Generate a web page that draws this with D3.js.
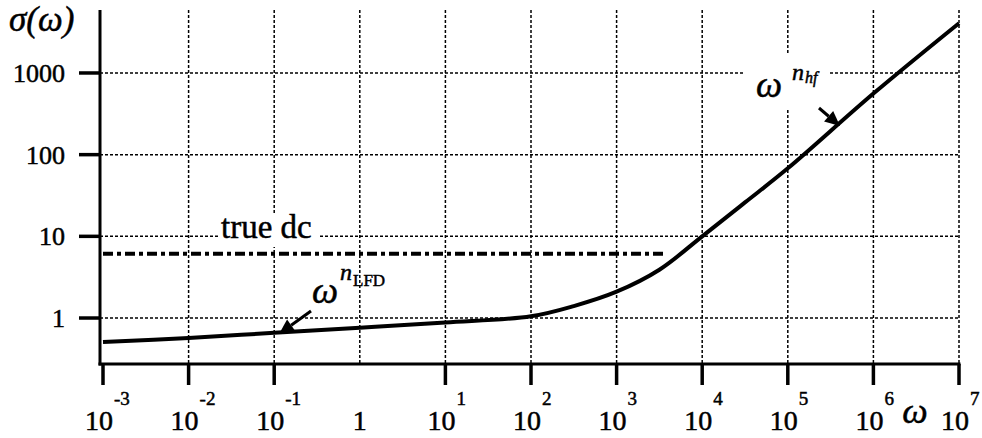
<!DOCTYPE html>
<html>
<head>
<meta charset="utf-8">
<script src="https://cdn.jsdelivr.net/npm/d3@7"></script>
<style>
    html, body { margin: 0; padding: 0; background: #fff; }
    text { font-family: 'Liberation Serif', 'DejaVu Serif', Times, serif; fill: #000; stroke: #000; stroke-width: 0.5; }
    .grid line { stroke: #000; stroke-width: 1.5; stroke-dasharray: 3,2; }
</style>
</head>
<body>
<svg id="plate" width="982" height="438"></svg>
<script>
// conductivity spectrum
var omega = [1e-3, 1e-2, 1e-1, 1, 10, 100, 316, 1000, 3162, 1e4, 31623, 1e5, 1e6, 1e7];
var sigma = [0.51, 0.57, 0.66, 0.76, 0.88, 1.05, 1.4, 2.1, 3.9, 10, 26, 68, 560, 4070];

// true dc level (dash-dot line)
var trueDc = 6.1;
var trueDcRange = [1e-3, 3500];

// ticks
var xTicks = [1e-3, 1e-2, 1e-1, 1, 1e1, 1e2, 1e3, 1e4, 1e5, 1e6, 1e7];
var xTickLabels = ['-3', '-2', '-1', '', '1', '2', '3', '4', '5', '6', '7'];
var yTicks = [1, 10, 100, 1000];
var yTickLabels = ['1', '10', '100', '1000'];

var svg = d3.select('#plate');

// set the ranges
var x = d3.scaleLog().domain([1e-3, 1e7]).range([103, 959]);
var y = d3.scaleLog().domain([Math.pow(10, -0.563), Math.pow(10, 3.771)]).range([364, 10]);

var axisLeftX = 100;
var axisBottomY = 364;

// grid
var grid = svg.append('g').attr('class', 'grid');
grid.selectAll('.v').data(xTicks.slice(1))
    .enter().append('line')
    .attr('x1', (d) => x(d)).attr('x2', (d) => x(d))
    .attr('y1', 10).attr('y2', axisBottomY);
grid.selectAll('.h').data(yTicks)
    .enter().append('line')
    .attr('x1', axisLeftX).attr('x2', x(1e7))
    .attr('y1', (d) => y(d)).attr('y2', (d) => y(d));

// white boxes behind labels cut the grid
svg.append('rect').attr('x', 218).attr('y', 214).attr('width', 102).attr('height', 33).attr('fill', '#fff');
svg.append('rect').attr('x', 745).attr('y', 55).attr('width', 85).attr('height', 55).attr('fill', '#fff');

// true dc dash-dot line
svg.append('line')
    .attr('x1', x(trueDcRange[0])).attr('x2', x(trueDcRange[1]))
    .attr('y1', y(trueDc)).attr('y2', y(trueDc))
    .attr('stroke', '#000').attr('stroke-width', 4)
    .attr('stroke-dasharray', '10,4,4,4');

// the curve
var data = omega.map((w, i) => ({w: w, s: sigma[i]}));
var line = d3.line()
    .x((d) => x(d.w))
    .y((d) => y(d.s))
    .curve(d3.curveCatmullRom.alpha(0.5));
svg.append('path')
    .datum(data)
    .attr('d', line)
    .attr('fill', 'none')
    .attr('stroke', '#000')
    .attr('stroke-width', 4)
    .attr('stroke-linejoin', 'round');

// axes
svg.append('line')
    .attr('x1', axisLeftX).attr('x2', axisLeftX)
    .attr('y1', 10).attr('y2', axisBottomY + 1.5)
    .attr('stroke', '#000').attr('stroke-width', 3);
svg.append('line')
    .attr('x1', axisLeftX - 1.5).attr('x2', x(1e7) + 1.5)
    .attr('y1', axisBottomY).attr('y2', axisBottomY)
    .attr('stroke', '#000').attr('stroke-width', 3);

// x ticks (none drawn at 1)
svg.selectAll('.xtick').data(xTicks.filter((d) => d !== 1))
    .enter().append('line')
    .attr('x1', (d) => x(d)).attr('x2', (d) => x(d))
    .attr('y1', axisBottomY).attr('y2', axisBottomY + 21)
    .attr('stroke', '#000').attr('stroke-width', 3.5);

// y ticks
svg.selectAll('.ytick').data(yTicks)
    .enter().append('line')
    .attr('x1', axisLeftX - 21).attr('x2', axisLeftX)
    .attr('y1', (d) => y(d)).attr('y2', (d) => y(d))
    .attr('stroke', '#000').attr('stroke-width', 3.5);

// x tick labels
xTicks.forEach((d, i) => {
    var e = xTickLabels[i];
    if (e === '') {
        svg.append('text').attr('x', x(d)).attr('y', 430)
            .attr('text-anchor', 'middle').attr('font-size', 28).text('1');
        return;
    }
    svg.append('text').attr('x', x(d) - 4).attr('y', 430)
        .attr('text-anchor', 'middle').attr('font-size', 28).text('10');
    svg.append('text').attr('x', x(d) + 11).attr('y', 405)
        .attr('font-size', 19).text(e);
});

// y tick labels
yTicks.forEach((d, i) => {
    svg.append('text').attr('x', 65).attr('y', y(d))
        .attr('dy', '0.35em')
        .attr('text-anchor', 'end').attr('font-size', 26).text(yTickLabels[i]);
});

// axis titles
svg.append('text').attr('x', 915).attr('y', 423)
    .attr('text-anchor', 'middle').attr('font-size', 36).attr('font-style', 'italic').text('ω');
svg.append('text').attr('x', 9).attr('y', 31)
    .attr('font-size', 35).attr('font-style', 'italic').text('σ(ω)');

// true dc label
svg.append('text').attr('x', 221).attr('y', 238)
    .attr('font-size', 33).text('true dc');

// omega^n_LFD
svg.append('text').attr('x', 312).attr('y', 303)
    .attr('font-size', 37).attr('font-style', 'italic').text('ω');
svg.append('text').attr('x', 340).attr('y', 280)
    .attr('font-size', 24).attr('font-style', 'italic').text('n');
svg.append('text').attr('x', 353).attr('y', 286)
    .attr('font-size', 17).text('LFD');

// omega^n_hf
svg.append('text').attr('x', 756).attr('y', 97)
    .attr('font-size', 37).attr('font-style', 'italic').text('ω');
svg.append('text').attr('x', 792).attr('y', 80)
    .attr('font-size', 24).attr('font-style', 'italic').text('n');
svg.append('text').attr('x', 805).attr('y', 83)
    .attr('font-size', 16).attr('font-style', 'italic').text('hf');

// arrows
function arrow(x1, y1, x2, y2) {
    var a = Math.atan2(y2 - y1, x2 - x1);
    var len = 15, half = 7;
    var bx = x2 - len * Math.cos(a), by = y2 - len * Math.sin(a);
    svg.append('line').attr('x1', x1).attr('y1', y1).attr('x2', bx).attr('y2', by)
        .attr('stroke', '#000').attr('stroke-width', 3);
    var pts = [
        [x2, y2],
        [bx + half * Math.sin(a), by - half * Math.cos(a)],
        [bx - half * Math.sin(a), by + half * Math.cos(a)]
    ];
    svg.append('polygon').attr('points', pts.map((p) => p.join(',')).join(' ')).attr('fill', '#000');
}
arrow(311, 311, 279, 334);
arrow(819, 108, 840, 126);
</script>
</body>
</html>
